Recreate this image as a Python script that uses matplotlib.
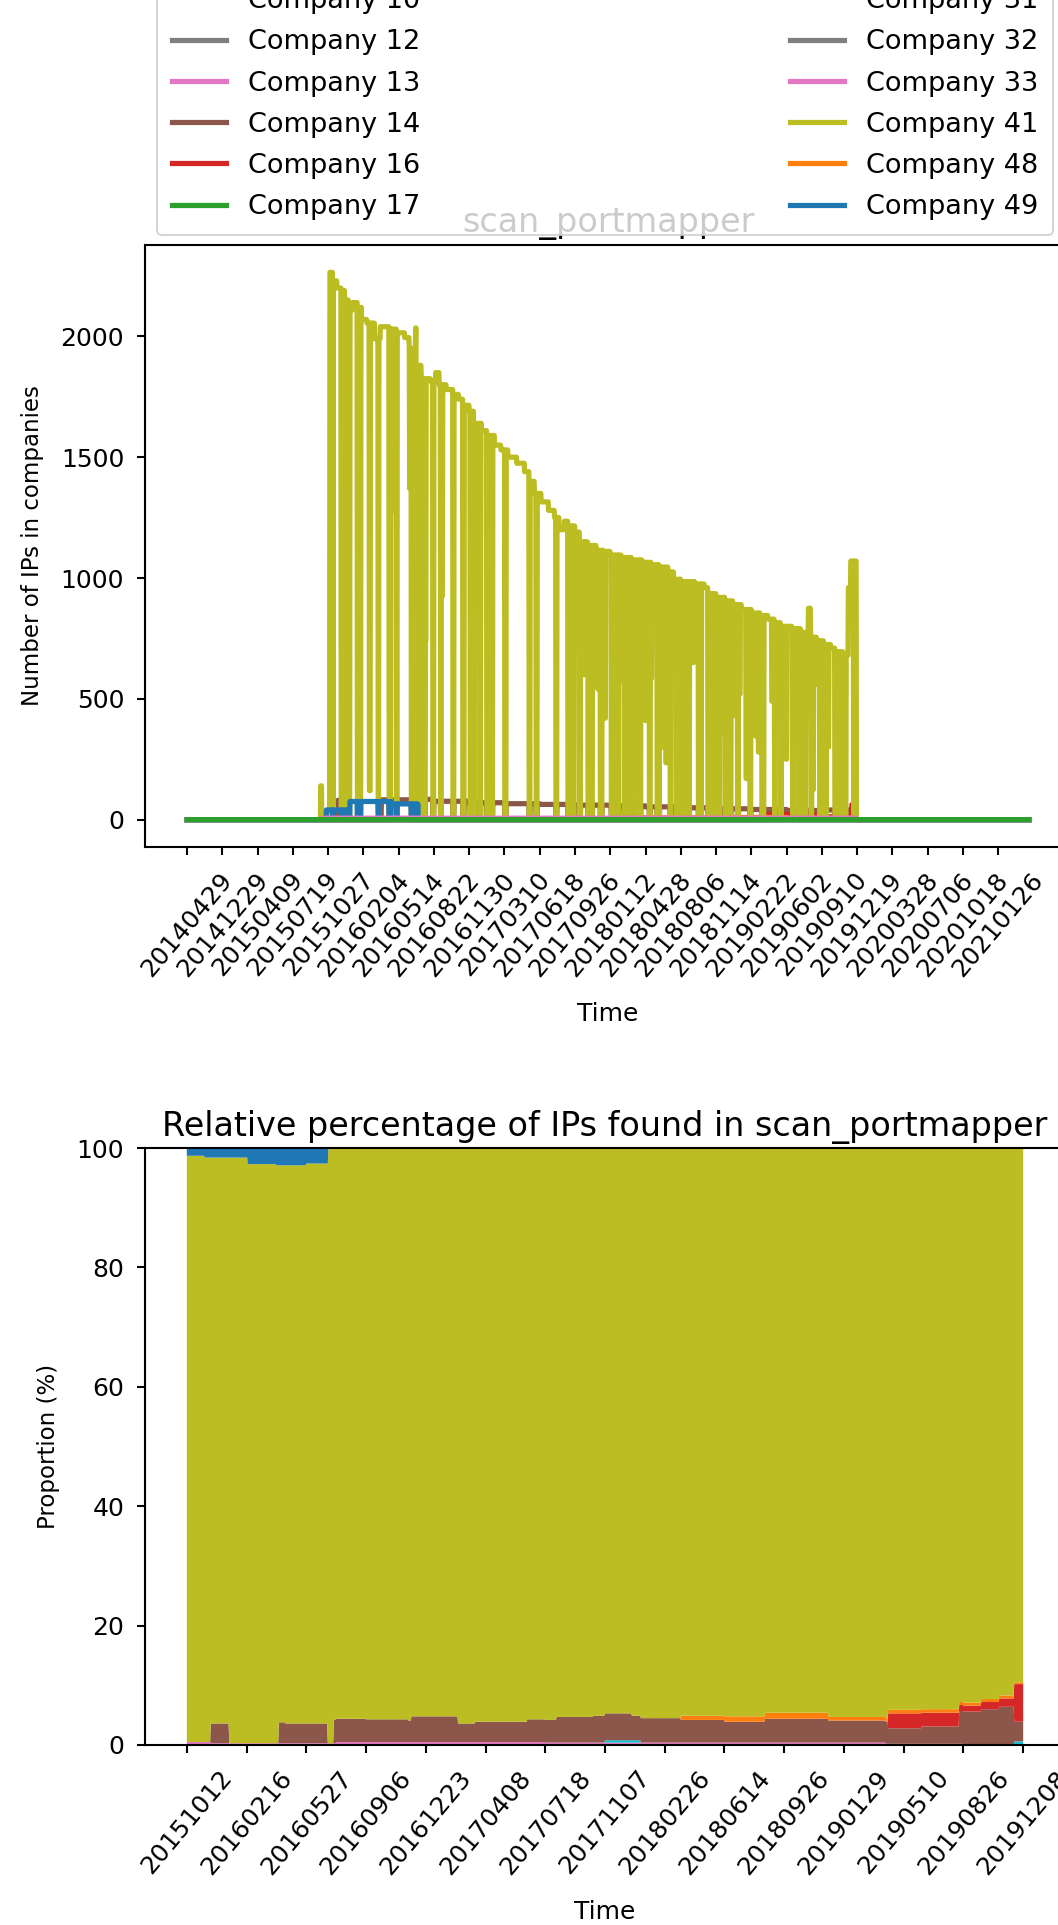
import numpy as np
import matplotlib.pyplot as plt

# ---------------- data: daily IP counts per company (scan_portmapper) ----------------
N_TOP = 2388
top_tick_labels = [
    "20140429", "20141229", "20150409", "20150719", "20151027", "20160204",
    "20160514", "20160822", "20161130", "20170310", "20170618", "20170926",
    "20180112", "20180428", "20180806", "20181114", "20190222", "20190602",
    "20190910", "20191219", "20200328", "20200706", "20201018", "20210126",
]

# step runs: (first day index, count)
runs_c41 = [
    (0, 0), (379, 140), (382, 0), (405, 2265), (415, 2230), (425, 2200), (437, 2190),
    (447, 2150), (458, 2110), (470, 2140), (485, 2120), (495, 2070), (510, 2055),
    (532, 1990), (548, 2040), (575, 2030), (595, 2015), (617, 1995), (630, 1950),
    (640, 1890), (648, 2035), (652, 1880), (664, 1825), (690, 1815), (705, 1850),
    (715, 1800), (735, 1780), (755, 1760), (770, 1740), (785, 1715), (800, 1690),
    (815, 1640), (835, 1610), (855, 1590), (872, 1550), (890, 1530), (910, 1500),
    (935, 1475), (957, 1440), (970, 1400), (985, 1350), (1004, 1315), (1025, 1280),
    (1042, 1250), (1055, 1200), (1070, 1235), (1085, 1215), (1100, 1190), (1115, 1150),
    (1136, 1135), (1160, 1115), (1180, 1110), (1200, 1095), (1231, 1085), (1260, 1075),
    (1290, 1065), (1316, 1055), (1340, 1045), (1364, 1025), (1380, 995), (1401, 985),
    (1440, 975), (1467, 960), (1480, 935), (1501, 920), (1525, 905), (1550, 890),
    (1572, 870), (1600, 855), (1625, 845), (1647, 830), (1665, 815), (1685, 800),
    (1715, 790), (1742, 775), (1755, 765), (1762, 875), (1768, 755), (1785, 740),
    (1805, 725), (1825, 710), (1840, 695), (1860, 680), (1875, 960), (1882, 1070),
    (1898, 0),
]
runs_c14 = [
    (0, 0), (428, 80), (462, 0), (551, 82), (640, 0), (650, 84), (700, 76), (800, 70),
    (900, 66), (1000, 63), (1100, 60), (1200, 57), (1300, 53), (1400, 49), (1500, 45),
    (1600, 42), (1700, 38), (1800, 40), (1898, 0),
]
runs_c49 = [(0, 0), (395, 40), (460, 75), (580, 65), (655, 0)]
runs_c16 = [(0, 0), (1640, 22), (1780, 12), (1885, 62), (1898, 0)]
runs_c48 = [(0, 0), (1280, 8), (1500, 9), (1700, 6), (1898, 0)]
runs_c13 = [(0, 0), (385, 6), (1898, 0)]

# days where the scan came back short: (day index, days, count of Company 41)
# a count of 0 means the whole scan was empty that day
outages = [
    (413, 2, 0), (437, 3, 0), (452, 2, 0), (459, 3, 0), (483, 2, 0), (488, 5, 0),
    (517, 3, 120), (542, 2, 0), (573, 5, 0), (582, 2, 1280), (594, 2, 0), (631, 2, 1370),
    (636, 2, 0), (650, 4, 0), (657, 2, 0), (672, 4, 0), (676, 2, 740), (697, 3, 0),
    (719, 2, 0), (723, 2, 925), (754, 3, 0), (782, 4, 0), (803, 6, 0), (813, 2, 0),
    (830, 3, 0), (850, 7, 0), (865, 2, 0), (901, 4, 0), (970, 3, 0), (990, 3, 0),
    (1046, 3, 0), (1080, 8, 0), (1092, 2, 330), (1095, 3, 0), (1113, 3, 0), (1125, 2, 600),
    (1137, 3, 0), (1146, 4, 0), (1165, 2, 540), (1172, 5, 0), (1185, 2, 420), (1203, 4, 0),
    (1213, 3, 0), (1222, 3, 0), (1238, 2, 570), (1241, 3, 0), (1255, 3, 0), (1262, 2, 700),
    (1272, 5, 0), (1283, 4, 0), (1300, 2, 410), (1311, 3, 0), (1316, 2, 585), (1333, 4, 0),
    (1338, 2, 0), (1348, 2, 300), (1358, 2, 235), (1370, 3, 0), (1388, 6, 0), (1396, 2, 460),
    (1400, 2, 0), (1415, 2, 0), (1422, 3, 0), (1435, 2, 650), (1450, 3, 0), (1457, 2, 0),
    (1477, 3, 0), (1485, 2, 0), (1492, 2, 200), (1500, 2, 0), (1509, 2, 0), (1514, 4, 360),
    (1526, 3, 0), (1540, 3, 0), (1548, 2, 430), (1561, 3, 0), (1566, 3, 520), (1585, 3, 170),
    (1596, 3, 0), (1613, 4, 345), (1620, 2, 280), (1630, 3, 0), (1634, 2, 0), (1658, 5, 490),
    (1666, 2, 0), (1672, 2, 520), (1683, 3, 0), (1698, 3, 250), (1717, 3, 0), (1727, 2, 380),
    (1735, 2, 0), (1740, 3, 0), (1752, 2, 0), (1769, 3, 0), (1775, 2, 125), (1785, 2, 560),
    (1794, 3, 0), (1811, 2, 0), (1818, 2, 300), (1837, 3, 0), (1845, 2, 200), (1850, 2, 0),
    (1866, 3, 0), (1890, 2, 0),
]

# ---------------- data: relative share (%) on non-empty days ----------------
N_REL = 1401
rel_tick_labels = [
    "20151012", "20160216", "20160527", "20160906", "20161223", "20170408",
    "20170718", "20171107", "20180226", "20180614", "20180926", "20190129",
    "20190510", "20190826", "20191208",
]
share_c13 = [(0, 0.5), (40, 0.3), (250, 0.5), (600, 0.4), (1170, 0.2), (1300, 0.1)]
share_c31 = [(0, 0.0), (700, 0.4), (760, 0.0), (1385, 0.5)]
share_c14 = [
    (0, 0.0), (40, 3.3), (71, 0.0), (154, 3.5), (165, 3.3), (236, 0.0), (246, 3.9),
    (300, 3.8), (371, 3.6), (376, 4.3), (454, 3.1), (483, 3.4), (570, 3.8), (619, 4.3),
    (680, 4.5), (745, 4.1), (827, 3.8), (900, 3.5), (968, 4.0), (1074, 3.7), (1174, 2.6),
    (1230, 2.9), (1293, 5.5), (1330, 5.9), (1360, 6.3), (1385, 3.3),
]
share_c16 = [(0, 0.0), (1174, 2.5), (1230, 2.3), (1293, 1.0), (1330, 1.2), (1360, 1.4), (1385, 6.3)]
share_c48 = [(0, 0.0), (827, 0.7), (900, 0.9), (968, 1.0), (1074, 0.6), (1174, 0.6), (1293, 0.5), (1385, 0.3)]
share_c49 = [(0, 1.3), (30, 1.6), (102, 2.7), (150, 2.9), (200, 2.6), (237, 0.0)]

COLORS = {
    "Company 10": "#9467bd", "Company 12": "#7f7f7f", "Company 13": "#e377c2",
    "Company 14": "#8c564b", "Company 16": "#d62728", "Company 17": "#2ca02c",
    "Company 31": "#17becf", "Company 32": "#7f7f7f", "Company 33": "#e377c2",
    "Company 41": "#bcbd22", "Company 48": "#ff7f0e", "Company 49": "#1f77b4",
}


def expand(runs, n):
    out = np.zeros(n)
    for i, (start, val) in enumerate(runs):
        stop = runs[i + 1][0] if i + 1 < len(runs) else n
        out[start:stop] = val
    return out


def style_axes(ax):
    ax.tick_params(labelsize=12, length=4, width=1, pad=6)
    for sp in ax.spines.values():
        sp.set_linewidth(1)


def main():
    counts = {name: np.zeros(N_TOP) for name in COLORS}
    counts["Company 41"] = expand(runs_c41, N_TOP)
    counts["Company 14"] = expand(runs_c14, N_TOP)
    counts["Company 49"] = expand(runs_c49, N_TOP)
    counts["Company 16"] = expand(runs_c16, N_TOP)
    counts["Company 48"] = expand(runs_c48, N_TOP)
    counts["Company 13"] = expand(runs_c13, N_TOP)
    for start, days, val in outages:
        counts["Company 41"][start:start + days] = val
        if val == 0:
            for name in counts:
                counts[name][start:start + days] = 0

    W, H, DPI = 1058, 1925, 150
    fig = plt.figure(figsize=(W / DPI, H / DPI), dpi=DPI)

    # -------- absolute counts --------
    ax1 = fig.add_axes([145 / W, 1 - 847 / H, 926 / W, 602 / H])
    x = np.arange(N_TOP)
    draw_order = ["Company 14", "Company 16", "Company 48", "Company 41", "Company 49",
                  "Company 10", "Company 12", "Company 13", "Company 31", "Company 32",
                  "Company 33", "Company 17"]
    lines = {}
    for name in draw_order:
        lines[name], = ax1.plot(x, counts[name], color=COLORS[name], lw=2.5, label=name)
    ax1.set_xticks(np.arange(0, N_TOP, 100))
    ax1.set_xticklabels(top_tick_labels, rotation=50)
    ax1.set_xlabel("Time", fontsize=12, labelpad=10)
    ax1.set_ylabel("Number of IPs in companies", fontsize=11, labelpad=8)
    ax1.set_title("scan_portmapper", fontsize=16)
    style_axes(ax1)

    legend_order = ["Company 10", "Company 12", "Company 13", "Company 14", "Company 16",
                    "Company 17", "Company 31", "Company 32", "Company 33", "Company 41",
                    "Company 48", "Company 49"]
    fig.legend([lines[n] for n in legend_order], legend_order,
               bbox_to_anchor=(157 / W, 1 - 235 / H, (1053 - 157) / W, 0.05),
               bbox_transform=fig.transFigure, loc="lower left", mode="expand",
               ncol=2, borderaxespad=0, fontsize=13, labelspacing=0.56,
               borderpad=0.55)

    # -------- relative share --------
    ax2 = fig.add_axes([145 / W, 1 - 1745 / H, 920 / W, 597 / H])
    x2 = np.arange(N_REL)
    layers = {
        "Company 13": expand(share_c13, N_REL),
        "Company 31": expand(share_c31, N_REL),
        "Company 14": expand(share_c14, N_REL),
        "Company 16": expand(share_c16, N_REL),
        "Company 48": expand(share_c48, N_REL),
    }
    c49 = expand(share_c49, N_REL)
    layers["Company 41"] = 100 - sum(layers.values()) - c49
    layers["Company 49"] = c49
    ax2.stackplot(x2, list(layers.values()), colors=[COLORS[n] for n in layers])
    ax2.set_xlim(-70, 1470)
    ax2.set_ylim(0, 100)
    ax2.set_xticks(np.arange(0, N_REL, 100))
    ax2.set_xticklabels(rel_tick_labels, rotation=50)
    ax2.set_xlabel("Time", fontsize=12, labelpad=10)
    ax2.set_ylabel("Proportion (%)", fontsize=11, labelpad=8)
    ax2.set_title("Relative percentage of IPs found in scan_portmapper", fontsize=16)
    style_axes(ax2)

    fig.savefig("out.png", dpi=DPI)


if __name__ == "__main__":
    main()
